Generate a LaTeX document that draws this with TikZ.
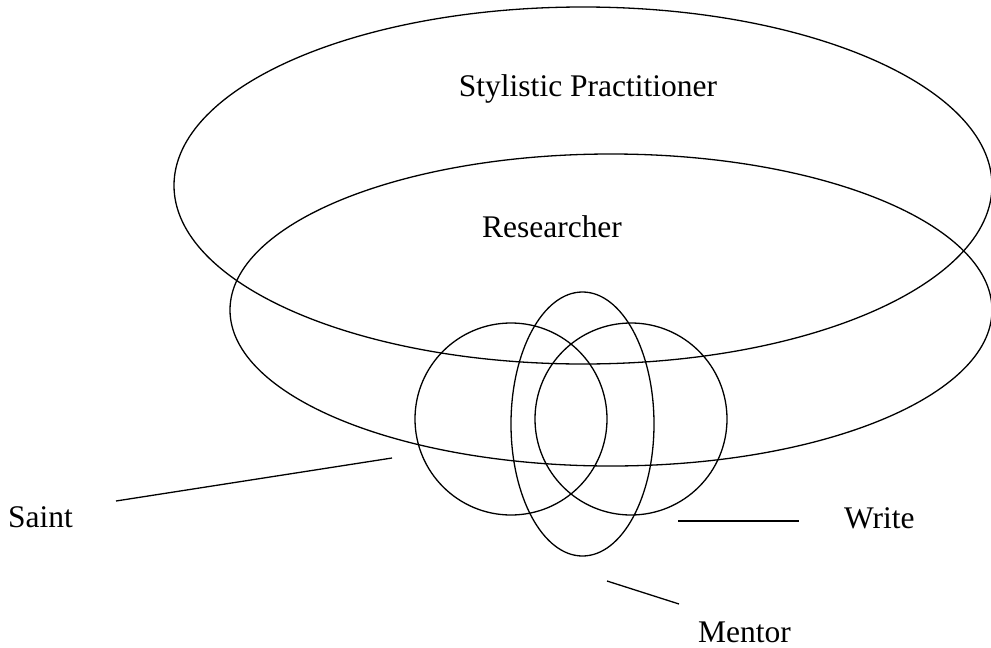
\documentclass[tikz,border=0pt]{standalone}
\usepackage{fontspec}
\setmainfont{Liberation Serif}
\begin{document}
\begin{tikzpicture}[x=1pt,y=-1pt,
  outline/.style={draw=black,line width=1.3pt},
  lbl/.style={inner sep=0pt,font=\fontsize{31.5}{36}\selectfont},
  leader/.style={draw=black,line width=1.3pt}]
\useasboundingbox (0,0) rectangle (991,648);
% big ellipses
\coordinate (spc) at (583,185.5);
\coordinate (rsc) at (611,310);
\draw[outline] (spc) ellipse [x radius=409, y radius=178.5];
\draw[outline] (rsc) ellipse [x radius=381, y radius=156];
% small circles and tall ellipse
\coordinate (sac) at (511,419);
\coordinate (mec) at (582.5,424);
\coordinate (wrc) at (631,419);
\draw[outline] (sac) circle [radius=96];
\draw[outline] (mec) ellipse [x radius=71.5, y radius=132];
\draw[outline] (wrc) circle [radius=96];
% labels
\node[lbl,anchor=base] (sp) at (588,96) {Stylistic Practitioner};
\node[lbl,anchor=base] (rs) at (552,237) {Researcher};
\node[lbl,anchor=base west] (saint) at (8,527) {Saint};
\node[lbl,anchor=base west] (write) at (844,528) {Write};
\node[lbl,anchor=base west] (mentor) at (698,642) {Mentor};
% leader lines
\coordinate (s1) at (116,501);
\coordinate (s2) at (392,458);
\coordinate (w1) at (678,521);
\coordinate (w2) at (799,521);
\coordinate (m1) at (607,581);
\coordinate (m2) at (679,604);
\draw[leader] (s1) -- (s2);
\draw[leader] (w1) -- (w2);
\draw[leader] (m1) -- (m2);
\end{tikzpicture}
\end{document}
